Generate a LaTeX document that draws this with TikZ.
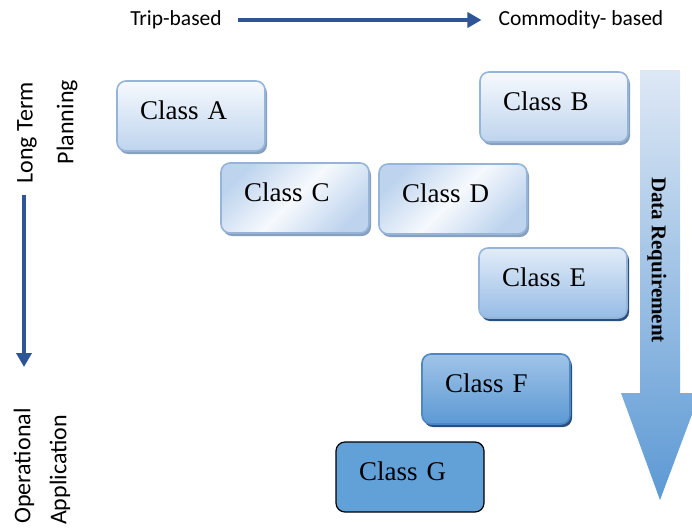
\documentclass[tikz,border=0pt]{standalone}
\usepackage{fontspec}
\setmainfont{Liberation Serif}
\setsansfont{Carlito}
\usetikzlibrary{shadows}
\usetikzlibrary{arrows.meta}
\definecolor{darrow}{RGB}{47,85,151}
\definecolor{lborder}{RGB}{149,180,216}
\definecolor{ltop}{RGB}{246,249,253}
\definecolor{lbot}{RGB}{190,212,238}
\definecolor{lshadow}{RGB}{135,160,190}
\definecolor{mtop}{RGB}{226,236,248}
\definecolor{mbot}{RGB}{150,188,230}
\definecolor{dtop}{RGB}{160,196,232}
\definecolor{dbot}{RGB}{92,153,212}
\definecolor{dborder}{RGB}{79,135,196}
\definecolor{dshadow}{RGB}{40,80,125}
\definecolor{gfill}{RGB}{98,160,216}
\definecolor{bigtop}{RGB}{222,232,245}
\definecolor{bigbot}{RGB}{92,153,212}
\tikzset{
	classnode/.style = {
		rectangle,
		rounded corners=9pt,
		align=left,
		inner sep=0pt,
		text width=148pt,
		text height=38pt,
		text depth=32pt,
		minimum width=148pt,
		minimum height=70pt,
		execute at begin node={\hspace*{23pt}},
		font=\fontsize{27}{30}\selectfont,
		line width=1.6pt
	},
	class_light/.style = {
		classnode,
		draw=lborder,
		top color=ltop,
		bottom color=lbot,
		drop shadow={shadow xshift=2pt, shadow yshift=-3pt, fill=lshadow, opacity=1}
	},
	class_diag/.style = {
		classnode,
		draw=lborder,
		left color=lbot,
		right color=lbot,
		middle color=ltop,
		shading angle=45,
		drop shadow={shadow xshift=2pt, shadow yshift=-3pt, fill=lshadow, opacity=1}
	},
	class_mid/.style = {
		classnode,
		draw=lborder,
		top color=mtop,
		bottom color=mbot,
		drop shadow={shadow xshift=2pt, shadow yshift=-3pt, fill=dshadow, opacity=1}
	},
	class_dark/.style = {
		classnode,
		draw=dborder,
		top color=dtop,
		bottom color=dbot,
		drop shadow={shadow xshift=2pt, shadow yshift=-3pt, fill=dshadow, opacity=1}
	},
	class_solid/.style = {
		classnode,
		draw=black,
		fill=gfill,
		line width=1.2pt
	},
	toplabel/.style = {
		font=\sffamily\fontsize{21.5}{23}\selectfont,
		inner sep=0pt
	},
	sidelabel/.style = {
		font=\sffamily\fontsize{24}{26}\selectfont,
		inner sep=0pt,
		rotate=90
	},
	thickarrow/.style = {
		draw=darrow,
		line width=3.5pt,
		-{Triangle[length=14pt,width=15pt]}
	}
}
\begin{document}
\begin{tikzpicture}[x=1pt,y=-1pt]
\useasboundingbox (0,0) rectangle (692,527);
% big data arrow
\shade[top color=bigtop, bottom color=bigbot]
	(640,70) -- (680,70) -- (680,393) -- (700,393) -- (660,500) -- (621,393) -- (640,393) -- cycle;
\node [rotate=-90, font=\bfseries\fontsize{21}{23}\selectfont] (datareq) at (657,260) {Data Requirement};
% top axis
\node [toplabel] (trip) at (176,20) {Trip-based};
\node [toplabel] (comm) at (581,20) {Commodity- based};
\draw [thickarrow] ([xshift=16pt]trip.east) -- ([xshift=-17pt]comm.west);
% left axis
\node [sidelabel] (longterm) at (27,133) {Long Term};
\node [sidelabel] (planning) at (67,122) {Planning};
\node [sidelabel] (operational) at (24,466) {Operational};
\node [sidelabel] (application) at (60,470) {Application};
\coordinate (ltend) at (24,195);
\coordinate (opend) at (24,367);
\draw [thickarrow] (ltend) -- (opend);
% classes
\node [class_light] (classA) at (191,116) {Class A};
\node [class_light] (classB) at (554,107) {Class B};
\node [class_diag] (classC) at (295,198) {Class C};
\node [class_diag] (classD) at (453,199) {Class D};
\node [class_mid] (classE) at (553,283) {Class E};
\node [class_dark] (classF) at (496,389) {Class F};
\node [class_solid] (classG) at (410,477) {Class G};
\end{tikzpicture}
\end{document}
